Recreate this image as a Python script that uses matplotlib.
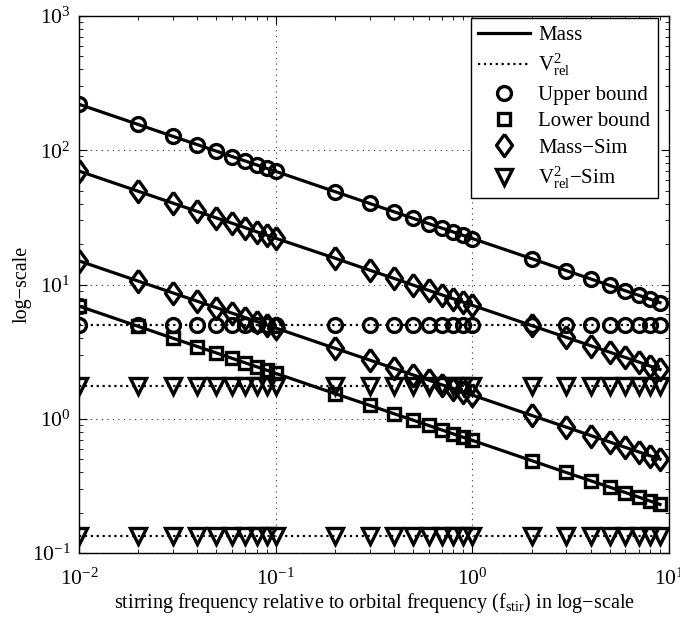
import matplotlib
matplotlib.use("Agg")
import matplotlib.pyplot as plt
from matplotlib.lines import Line2D

plt.rcParams['font.family'] = ['Liberation Serif', 'DejaVu Serif']
plt.rcParams['mathtext.fontset'] = 'custom'
plt.rcParams['mathtext.rm'] = 'Liberation Serif'
plt.rcParams['mathtext.it'] = 'Liberation Serif:italic'
plt.rcParams['mathtext.bf'] = 'Liberation Serif:bold'

# stirring frequency relative to orbital frequency
freq = [0.01, 0.02, 0.03, 0.04, 0.05, 0.06, 0.07, 0.08, 0.09,
        0.1, 0.2, 0.3, 0.4, 0.5, 0.6, 0.7, 0.8, 0.9,
        1, 2, 3, 4, 5, 6, 7, 8, 9]

upper_mass = [220, 155.6, 127, 110, 98.4, 89.8, 83.2, 77.8, 73.3,
              69.6, 49.2, 40.2, 34.8, 31.1, 28.4, 26.3, 24.6, 23.2,
              22, 15.6, 12.7, 11, 9.84, 8.98, 8.32, 7.78, 7.33]
sim_mass_hi = [70, 49.5, 40.4, 35, 31.3, 28.6, 26.5, 24.7, 23.3,
               22.1, 15.7, 12.8, 11.1, 9.9, 9.04, 8.37, 7.83, 7.38,
               7.0, 4.95, 4.04, 3.5, 3.13, 2.86, 2.65, 2.47, 2.33]
sim_mass_lo = [15, 10.6, 8.66, 7.5, 6.71, 6.12, 5.67, 5.30, 5.0,
               4.74, 3.35, 2.74, 2.37, 2.12, 1.94, 1.79, 1.68, 1.58,
               1.5, 1.06, 0.866, 0.75, 0.671, 0.612, 0.567, 0.530, 0.5]
lower_mass = [6.9, 4.88, 3.98, 3.45, 3.09, 2.82, 2.61, 2.44, 2.30,
              2.18, 1.54, 1.26, 1.09, 0.976, 0.891, 0.825, 0.771, 0.727,
              0.69, 0.488, 0.398, 0.345, 0.309, 0.282, 0.261, 0.244, 0.23]

# velocity^2 levels (flat in frequency)
upper_vrel = 5.0
sim_vrel_hi = 1.75
sim_vrel_lo = 0.135

fig = plt.figure(figsize=(6.8, 6.2), dpi=100)
ax = fig.add_axes([79 / 680, 1 - 553 / 620, 590 / 680, 537 / 620])
ax.set_xscale('log')
ax.set_yscale('log')

n = len(freq)
lw = 2.3
mew = 2.4
k = 'black'
diamond = [(0, 1), (0.72, 0), (0, -1), (-0.72, 0), (0, 1)]
d_ms = 16

# solid mass lines
for ys in [upper_mass, sim_mass_hi, sim_mass_lo, lower_mass]:
    ax.plot(freq, ys, '-', color=k, lw=lw, zorder=2)

# dotted V_rel^2 lines
for lev in [upper_vrel, sim_vrel_hi, sim_vrel_lo]:
    ax.plot(freq, [lev] * n, ':', color=k, lw=1.6, zorder=2)

mk = dict(color=k, ls='none', mfc='none', mew=mew, zorder=3)
ax.plot(freq, upper_mass, marker='o', ms=10, **mk)
ax.plot(freq, [upper_vrel] * n, marker='o', ms=10, **mk)
ax.plot(freq, lower_mass, marker='s', ms=8.5, **mk)
ax.plot(freq, sim_mass_hi, marker=diamond, ms=d_ms, **mk)
ax.plot(freq, sim_mass_lo, marker=diamond, ms=d_ms, **mk)
ax.plot(freq, [sim_vrel_hi] * n, marker='v', ms=11, **mk)
ax.plot(freq, [sim_vrel_lo] * n, marker='v', ms=11, **mk)

ax.set_xlim(1e-2, 1e1)
ax.set_ylim(1e-1, 1e3)
ax.grid(True, which='major', ls=(0, (1, 4)), color='#333333', lw=0.8)
ax.tick_params(which='both', direction='in', top=True, right=True, labelsize=15.5, color=k)
ax.tick_params(which='major', length=6, width=0.8)
ax.tick_params(which='minor', length=3, width=0.6)
ax.tick_params(axis='x', pad=11)
ax.tick_params(axis='y', pad=6)
for s in ax.spines.values():
    s.set_linewidth(1.0)

ax.set_xlabel('stirring frequency relative to orbital frequency (f$_{\\rm stir}$) in log\u2212scale',
              fontsize=14.5, labelpad=1)
ax.set_ylabel('log\u2212scale', fontsize=14.5, labelpad=0)

handles = [
    Line2D([], [], color=k, ls='-', lw=lw),
    Line2D([], [], color=k, ls=':', lw=1.6),
    Line2D([], [], marker='o', ms=10, **mk),
    Line2D([], [], marker='s', ms=8.5, **mk),
    Line2D([], [], marker=diamond, ms=d_ms, **mk),
    Line2D([], [], marker='v', ms=11, **mk),
]
labels = ['Mass', 'V$_{\\rm rel}^2$', 'Upper bound', 'Lower bound',
          'Mass\u2212Sim', 'V$_{\\rm rel}^2$\u2212Sim']
leg = ax.legend(handles, labels, loc='upper right', bbox_to_anchor=(0.981, 0.9963),
                fontsize=15, frameon=True, fancybox=False, framealpha=1,
                edgecolor=k, handlelength=2.5, handletextpad=0.4,
                labelspacing=0.33, borderpad=0.35, borderaxespad=0)
leg.get_frame().set_linewidth(1.0)

fig.savefig('out.png', dpi=100)
